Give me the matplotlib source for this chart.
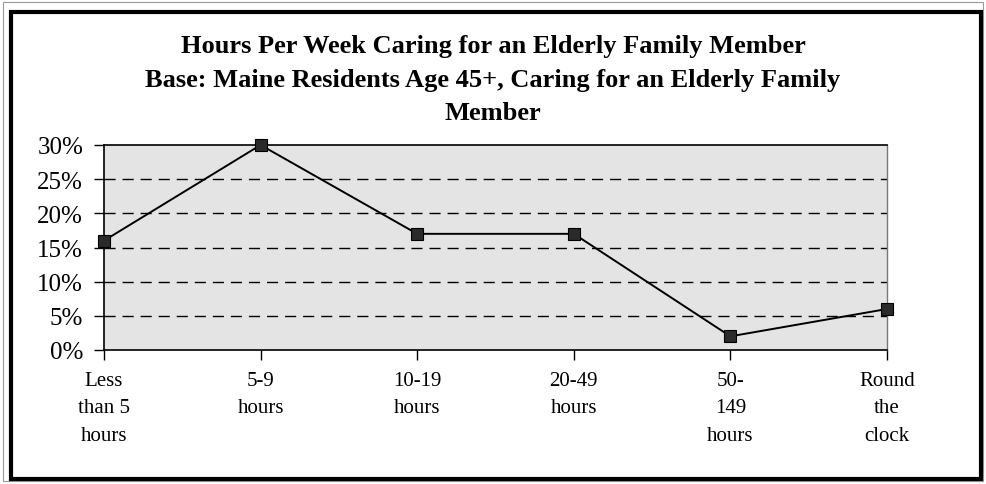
import matplotlib
matplotlib.use("Agg")
import matplotlib.pyplot as plt
from matplotlib.patches import Rectangle
from matplotlib.ticker import FuncFormatter

title_lines = ["Hours Per Week Caring for an Elderly Family Member",
               "Base: Maine Residents Age 45+, Caring for an Elderly Family",
               "Member"]
categories = ["Less\nthan 5\nhours", "5-9\nhours", "10-19\nhours",
              "20-49\nhours", "50-\n149\nhours", "Round\nthe\nclock"]
values = [16, 30, 17, 17, 2, 6]
y_ticks = [0, 5, 10, 15, 20, 25, 30]

plt.rcParams['font.family'] = ['Liberation Serif', 'DejaVu Serif']

fig = plt.figure(figsize=(9.86, 4.85), dpi=100)
fig.patch.set_facecolor('white')

W, H = 986, 485
ax = fig.add_axes([104 / W, 1 - 351 / H, (887 - 104) / W, (351 - 146) / H])
ax.set_facecolor('#e4e4e4')

x = list(range(len(categories)))
ax.plot(x, values, color='black', linewidth=1.4, marker='s', markersize=8.5,
        markerfacecolor='#2a2a2a', markeredgecolor='black', markeredgewidth=0.8,
        zorder=5, clip_on=False)

ax.set_xlim(0, len(categories) - 1)
ax.set_ylim(0, 30)
ax.set_yticks(y_ticks)
ax.yaxis.set_major_formatter(FuncFormatter(lambda v, p: f"{int(v)}%"))
ax.set_xticks(x)
ax.set_xticklabels(categories, fontsize=15, linespacing=1.6)

for v in y_ticks[1:-1]:
    ax.axhline(v, color='black', linewidth=1.0, linestyle=(0, (8, 5)), zorder=2)

ax.tick_params(axis='y', labelsize=18, length=7, width=1, direction='out', pad=8)
ax.tick_params(axis='x', length=7, width=1, direction='out', pad=8)

for s in ['left', 'bottom', 'top']:
    ax.spines[s].set_color('black')
    ax.spines[s].set_linewidth(1.2)
ax.spines['right'].set_color('#777777')
ax.spines['right'].set_linewidth(1.0)

ys = [46, 80, 113]
for t, yy in zip(title_lines, ys):
    fig.text(0.5, 1 - yy / H, t, ha='center', va='center', fontsize=19,
             fontweight='bold')

# outer frames
fig.add_artist(Rectangle((3 / W, 1 - 482 / H), (983 - 3) / W, (482 - 3) / H,
                         transform=fig.transFigure, fill=False,
                         edgecolor='#999999', linewidth=0.8))
fig.add_artist(Rectangle((10.5 / W, 1 - 479.5 / H), (980.5 - 10.5) / W, (479.5 - 12.5) / H,
                         transform=fig.transFigure, fill=False,
                         edgecolor='black', linewidth=3))

fig.savefig("out.png", dpi=100)
